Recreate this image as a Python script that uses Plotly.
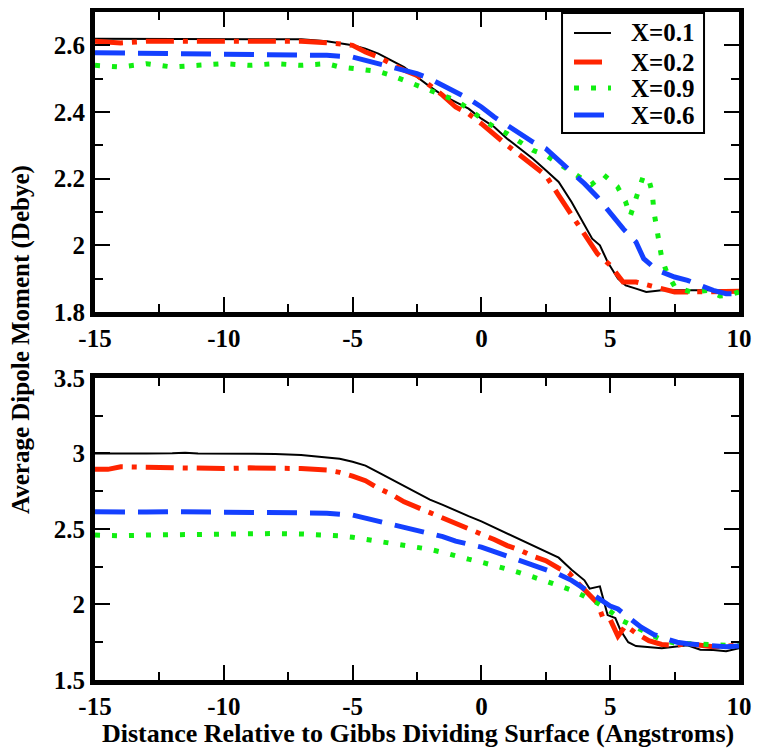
import plotly.graph_objects as go

# ---------------- data (top panel) ----------------
top_x01 = [-15, -13, -11, -9, -7, -6, -5, -4.5, -4, -3.5, -3, -2.5, -2, -1.5, -1, -0.5, 0, 0.5, 1, 1.5, 2, 2.5, 3, 3.5, 4, 4.3, 4.6, 4.9, 5.3, 5.6, 6, 6.4, 7, 8, 9, 10]
top_y01 = [2.62, 2.62, 2.62, 2.62, 2.618, 2.612, 2.60, 2.59, 2.575, 2.555, 2.535, 2.505, 2.476, 2.45, 2.43, 2.41, 2.38, 2.355, 2.32, 2.29, 2.26, 2.225, 2.19, 2.13, 2.06, 2.02, 2.0, 1.95, 1.90, 1.88, 1.87, 1.86, 1.865, 1.865, 1.865, 1.865]

top_x02 = [-15, -14, -13, -11, -9, -7, -6, -5, -4.5, -4, -3.5, -3, -2.5, -2, -1.5, -1, -0.5, 0, 0.5, 1, 1.5, 2, 2.5, 3, 3.5, 4, 4.5, 5, 5.5, 6, 6.5, 7, 7.5, 8, 9, 10]
top_y02 = [2.612, 2.607, 2.612, 2.612, 2.614, 2.612, 2.608, 2.60, 2.58, 2.565, 2.545, 2.525, 2.51, 2.48, 2.45, 2.415, 2.395, 2.365, 2.33, 2.30, 2.27, 2.24, 2.21, 2.15, 2.09, 2.03, 1.975, 1.94, 1.89, 1.89, 1.88, 1.87, 1.86, 1.86, 1.86, 1.862]

top_x09 = [-15, -14, -13, -12, -11, -10, -9, -8, -7, -6, -5.5, -5, -4.5, -4, -3.5, -3, -2.5, -2, -1.5, -1, -0.5, 0, 0.5, 1, 1.5, 2, 2.5, 3, 3.5, 3.85, 4.27, 4.74, 5.28, 5.59, 5.78, 6.09, 6.28, 6.48, 6.63, 6.7, 6.79, 6.86, 7.0, 7.2, 7.52, 8.15, 8.8, 9.26, 9.6, 10]
top_y09 = [2.54, 2.535, 2.545, 2.535, 2.54, 2.545, 2.54, 2.545, 2.54, 2.545, 2.535, 2.53, 2.525, 2.522, 2.51, 2.495, 2.48, 2.465, 2.45, 2.435, 2.41, 2.38, 2.355, 2.335, 2.31, 2.285, 2.27, 2.245, 2.22, 2.206, 2.182, 2.212, 2.176, 2.132, 2.088, 2.162, 2.206, 2.203, 2.159, 2.10, 2.056, 2.012, 1.962, 1.918, 1.874, 1.86, 1.865, 1.848, 1.85, 1.86]

top_x06 = [-15, -14, -12, -10, -8, -6, -5, -4.5, -4, -3.5, -3, -2.5, -2, -1.5, -1, -0.5, 0, 0.5, 1, 1.5, 2, 2.5, 3, 3.5, 4, 4.5, 5, 5.5, 6, 6.3, 6.6, 7, 7.5, 8, 8.5, 9, 9.5, 9.8, 10]
top_y06 = [2.578, 2.577, 2.576, 2.575, 2.574, 2.57, 2.565, 2.555, 2.545, 2.535, 2.525, 2.515, 2.50, 2.48, 2.46, 2.44, 2.415, 2.385, 2.36, 2.335, 2.31, 2.29, 2.255, 2.22, 2.185, 2.145, 2.095, 2.05, 2.01, 1.96, 1.94, 1.92, 1.905, 1.895, 1.88, 1.865, 1.855, 1.855, 1.865]

# ---------------- data (bottom panel) ----------------
bot_x01 = [-15, -14, -13, -12, -11.5, -11, -10, -9, -8, -7, -6, -5.5, -5, -4.5, -4, -3.5, -3, -2.5, -2, -1.5, -1, -0.5, 0, 0.5, 1, 1.5, 2, 2.5, 3, 3.5, 4.0, 4.2, 4.6, 4.9, 5.2, 5.4, 5.7, 6.0, 7.0, 8.0, 8.5, 9.0, 9.5, 10]
bot_y01 = [3.0, 2.998, 3.0, 3.002, 3.005, 3.0, 2.998, 3.0, 2.997, 2.99, 2.975, 2.965, 2.945, 2.92, 2.875, 2.83, 2.78, 2.735, 2.695, 2.66, 2.62, 2.585, 2.55, 2.51, 2.47, 2.43, 2.39, 2.355, 2.31, 2.23, 2.16, 2.105, 2.12, 1.93, 1.91, 1.83, 1.75, 1.725, 1.71, 1.73, 1.70, 1.698, 1.69, 1.71]

bot_x02 = [-15, -14.5, -14, -13, -12, -11, -10, -9, -8, -7, -6, -5.5, -5, -4.5, -4, -3.5, -3, -2.5, -2, -1.5, -1, -0.5, 0, 0.5, 1, 1.5, 2, 2.5, 3, 3.4, 3.7, 4.0, 4.5, 4.7, 5.0, 5.3, 5.6, 6.0, 6.5, 7.0, 7.5, 8.0, 8.5, 9.0, 9.5, 10]
bot_y02 = [2.895, 2.895, 2.912, 2.907, 2.905, 2.902, 2.9, 2.905, 2.905, 2.9, 2.89, 2.875, 2.85, 2.82, 2.77, 2.73, 2.68, 2.645, 2.605, 2.57, 2.54, 2.5, 2.465, 2.43, 2.39, 2.36, 2.32, 2.29, 2.24, 2.21, 2.15, 2.1, 2.01, 1.92, 1.9, 1.79, 1.86, 1.81, 1.76, 1.735, 1.73, 1.74, 1.73, 1.72, 1.725, 1.73]

bot_x09 = [-15, -14, -13, -12, -11, -10, -9, -8, -7, -6, -5.5, -5, -4.5, -4, -3.5, -3, -2.5, -2, -1.5, -1, -0.5, 0, 0.5, 1, 1.5, 2, 2.5, 3, 3.5, 4, 4.5, 5, 5.5, 6, 6.5, 7, 7.5, 8, 8.5, 9, 9.5, 10]
bot_y09 = [2.46, 2.455, 2.46, 2.463, 2.465, 2.467, 2.465, 2.47, 2.467, 2.463, 2.455, 2.445, 2.432, 2.42, 2.41, 2.395, 2.38, 2.365, 2.345, 2.32, 2.3, 2.28, 2.26, 2.235, 2.21, 2.185, 2.155, 2.125, 2.095, 2.055, 2.01, 1.955, 1.89, 1.85, 1.805, 1.765, 1.745, 1.74, 1.74, 1.735, 1.73, 1.74]

bot_x06 = [-15, -14, -13, -12, -11, -10, -9, -8, -7, -6, -5, -4.5, -4, -3.5, -3, -2.5, -2, -1.5, -1, -0.5, 0, 0.5, 1, 1.5, 2, 2.5, 3, 3.5, 4, 4.5, 4.8, 5.0, 5.3, 5.8, 6.2, 6.7, 7.2, 7.6, 8.0, 8.5, 9.0, 9.5, 10]
bot_y06 = [2.615, 2.612, 2.612, 2.615, 2.614, 2.613, 2.614, 2.61, 2.607, 2.605, 2.592, 2.572, 2.552, 2.53, 2.51, 2.49, 2.47, 2.45, 2.42, 2.4, 2.38, 2.35, 2.32, 2.29, 2.26, 2.23, 2.2, 2.16, 2.1, 2.04, 2.01, 1.99, 1.97, 1.9, 1.85, 1.8, 1.77, 1.75, 1.74, 1.735, 1.725, 1.72, 1.725]

# ---------------- tick labels ----------------
x_tickvals = [-15, -10, -5, 0, 5, 10]
x_ticktext = ["-15", "-10", "-5", "0", "5", "10"]
ytop_tickvals = [1.8, 2.0, 2.2, 2.4, 2.6]
ytop_ticktext = ["1.8", "2", "2.2", "2.4", "2.6"]
ybot_tickvals = [1.5, 2.0, 2.5, 3.0, 3.5]
ybot_ticktext = ["1.5", "2", "2.5", "3", "3.5"]

series_names = ["X=0.1", "X=0.2", "X=0.9", "X=0.6"]
series_colors = ["#000000", "#ff2400", "#11ee11", "#1440ff"]
series_widths = [2, 5, 5, 5]
series_dashes = ["solid", "28px,9px,5px,9px", "5px,12px", "30px,13px"]

top_data = [(top_x01, top_y01), (top_x02, top_y02), (top_x09, top_y09), (top_x06, top_y06)]
bot_data = [(bot_x01, bot_y01), (bot_x02, bot_y02), (bot_x09, bot_y09), (bot_x06, bot_y06)]

FONT = "Liberation Serif"
bold = lambda s: dict(family=FONT, size=s, color="black", weight="bold")

fig = go.Figure()
for i, (xs, ys) in enumerate(top_data):
    fig.add_trace(go.Scatter(x=xs, y=ys, mode="lines", name=series_names[i],
                             line=dict(color=series_colors[i], width=series_widths[i], dash=series_dashes[i]),
                             xaxis="x", yaxis="y", showlegend=False))
for i, (xs, ys) in enumerate(bot_data):
    fig.add_trace(go.Scatter(x=xs, y=ys, mode="lines", name=series_names[i],
                             line=dict(color=series_colors[i], width=series_widths[i], dash=series_dashes[i]),
                             xaxis="x2", yaxis="y2", showlegend=False))

common = dict(showline=True, linewidth=5, linecolor="black", mirror="ticks",
              ticks="inside", ticklen=15, tickwidth=2, tickcolor="black", tickmode="array",
              showgrid=False, zeroline=False, tickfont=bold(25), automargin=False)

def minor(d):
    return dict(dtick=d, tick0=0, ticks="inside", ticklen=8, tickwidth=2, tickcolor="black", showgrid=False)

# ---- legend box (layout decoration, positions in paper units) ----
leg_box = dict(x0=0.7252, x1=0.9457, y0=0.8189, y1=0.9985)
leg_sample_x = (0.7438, 0.8012)
leg_text_x = 0.8292
leg_rows_y = [0.9686, 0.9251, 0.8862, 0.8458]

shapes = [dict(type="rect", xref="paper", yref="paper", line=dict(color="black", width=2),
               fillcolor="white", layer="above", **leg_box)]
annotations = []
for i in range(4):
    shapes.append(dict(type="line", xref="paper", yref="paper", layer="above",
                       x0=leg_sample_x[0], x1=leg_sample_x[1], y0=leg_rows_y[i], y1=leg_rows_y[i],
                       line=dict(color=series_colors[i], width=series_widths[i], dash=series_dashes[i])))
    annotations.append(dict(text=series_names[i], xref="paper", yref="paper", x=leg_text_x, y=leg_rows_y[i],
                            xanchor="left", yanchor="middle", showarrow=False, font=bold(25)))

annotations += [
    dict(text="Average Dipole Moment (Debye)", textangle=-90, xref="paper", yref="paper",
         x=-0.115, y=0.5105, xanchor="center", yanchor="middle", showarrow=False, font=bold(25)),
    dict(text="Distance Relative to Gibbs Dividing Surface (Angstroms)", xref="paper", yref="paper",
         x=0.5016, y=-0.080, xanchor="center", yanchor="middle", showarrow=False, font=bold(26)),
]

# page body has an 8px margin, so the figure is shrunk and offset to keep the plot in place
fig.update_layout(
    width=754, height=743,
    margin=dict(l=87, r=23, t=4, b=71, autoexpand=False),
    paper_bgcolor="white", plot_bgcolor="white",
    showlegend=False,
    xaxis=dict(domain=[0, 1], anchor="y", range=[-15, 10], tickvals=x_tickvals, ticktext=x_ticktext,
               minor=minor(2.5), **common),
    yaxis=dict(domain=[0.5509, 1], anchor="x", range=[1.8, 2.7], tickvals=ytop_tickvals, ticktext=ytop_ticktext,
               minor=minor(0.1), **common),
    xaxis2=dict(domain=[0, 1], anchor="y2", range=[-15, 10], tickvals=x_tickvals, ticktext=x_ticktext,
                minor=minor(2.5), **common),
    yaxis2=dict(domain=[0, 0.4521], anchor="x2", range=[1.5, 3.5], tickvals=ybot_tickvals, ticktext=ybot_ticktext,
                minor=minor(0.25), **common),
    shapes=shapes,
    annotations=annotations,
)

fig.write_html("out.html")
